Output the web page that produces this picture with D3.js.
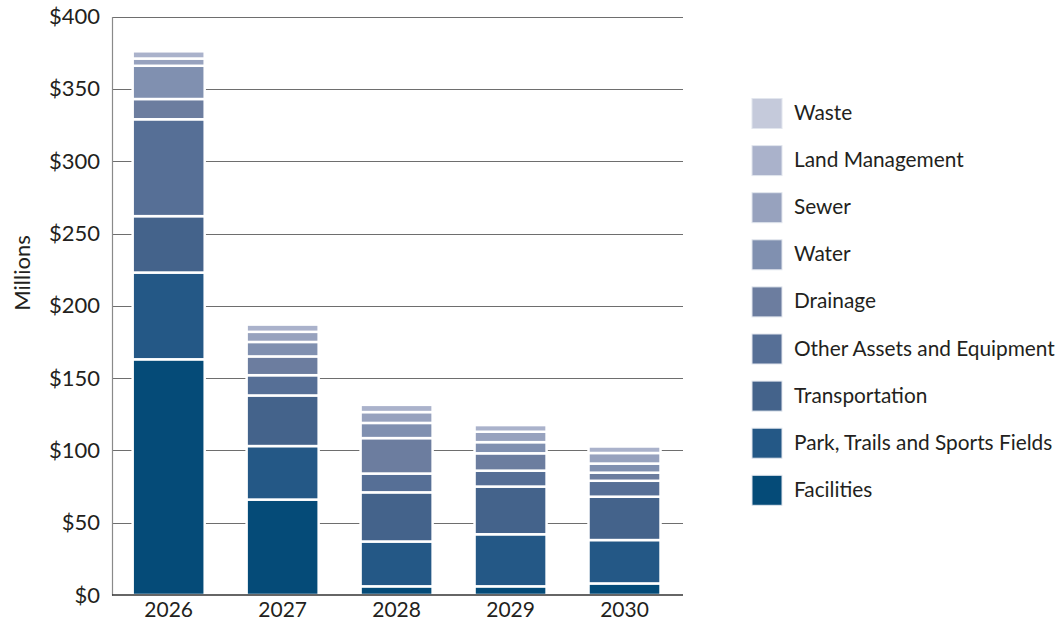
<!DOCTYPE html>
<html>
<head>
<meta charset="utf-8">
<script src="https://cdn.jsdelivr.net/npm/d3@7"></script>
<style>
  html, body { margin: 0; padding: 0; background: #fff; }
  svg { display: block; }
  text { font-family: Lato, "Open Sans", sans-serif; fill: #231f20; }
</style>
</head>
<body>
<svg id="chart" width="1061" height="629"></svg>
<script>
// Capital plan by year, millions of dollars
const years = ["2026", "2027", "2028", "2029", "2030"];
const yTicks = [0, 50, 100, 150, 200, 250, 300, 350, 400];

// Series listed bottom of the stack first
const facilities     = [163, 66, 6, 6, 8];
const parks          = [60, 37, 31, 36, 30];
const transportation = [39, 35, 34, 33, 30];
const otherAssets    = [67, 14, 13, 11, 11];
const drainage       = [14, 13, 24.5, 12, 5.6];
const water          = [23, 10, 10.5, 7.7, 6.3];
const sewer          = [5, 7, 7.5, 7.2, 7.3];
const landManagement = [5, 5, 5, 4.6, 4.5];
const waste          = [0, 0, 0, 0, 0];

const seriesNames = ["Facilities", "Park, Trails and Sports Fields", "Transportation",
  "Other Assets and Equipment", "Drainage", "Water", "Sewer", "Land Management", "Waste"];
const seriesValues = [facilities, parks, transportation, otherAssets, drainage,
  water, sewer, landManagement, waste];
const seriesColors = ["#054b78", "#245886", "#44638b", "#566f96", "#6c7d9f",
  "#8090b0", "#97a2be", "#aab2cb", "#c5cadb"];

const rows = years.map((yr, i) => {
  const r = { year: yr };
  seriesNames.forEach((n, k) => { r[n] = seriesValues[k][i]; });
  return r;
});

const svg = d3.select("#chart");
const plotLeft = 112, plotRight = 683, plotTop = 16.6, plotBottom = 595;

const x = d3.scaleBand().domain(years).range([111.7, 681.5])
  .paddingInner(0.368).paddingOuter(0.184);
const y = d3.scaleLinear().domain([0, 400]).range([plotBottom, plotTop]);
const color = d3.scaleOrdinal().domain(seriesNames).range(seriesColors);

// Gridlines
svg.append("g")
  .selectAll("line").data(yTicks.filter(d => d > 0)).join("line")
  .attr("x1", plotLeft).attr("x2", plotRight)
  .attr("y1", d => Math.round(y(d)) + 0.5).attr("y2", d => Math.round(y(d)) + 0.5)
  .attr("stroke", "#6e6e6e").attr("stroke-width", 1);

// Left axis with dollar labels
const yAxis = svg.append("g")
  .attr("transform", `translate(${plotLeft},0)`)
  .call(d3.axisLeft(y).tickValues(yTicks).tickSize(0).tickPadding(12).tickFormat(d => "$" + d));
yAxis.select(".domain").attr("stroke", "#8a8a8a").attr("stroke-width", 1.2);
yAxis.selectAll("text").style("font-size", "22px").attr("fill", "#231f20")
  .style("font-family", "Lato, sans-serif");

// Stacked bars
const stack = d3.stack().keys(seriesNames)(rows);
svg.append("g")
  .selectAll("g").data(stack).join("g")
  .attr("fill", d => color(d.key))
  .selectAll("rect").data(d => d.filter(s => s[1] - s[0] > 0)).join("rect")
  .attr("x", d => x(d.data.year))
  .attr("width", x.bandwidth())
  .attr("y", d => y(d[1]))
  .attr("height", d => y(d[0]) - y(d[1]))
  .attr("stroke", "#ffffff").attr("stroke-width", 2.5);

// Baseline and year labels
const xAxis = svg.append("g")
  .attr("transform", `translate(0,${plotBottom})`)
  .call(d3.axisBottom(x).tickSize(0).tickPadding(7));
xAxis.select(".domain").attr("d", `M${plotLeft},0H${plotRight}`).attr("stroke", "#333").attr("stroke-width", 1.5);
xAxis.selectAll("text").style("font-size", "21px").attr("fill", "#231f20")
  .style("font-family", "Lato, sans-serif");

// Axis title
svg.append("text")
  .attr("transform", "translate(30,273) rotate(-90)")
  .attr("text-anchor", "middle")
  .style("font-size", "22px")
  .text("Millions");

// Legend, top entry is the top of the stack
const legendItems = seriesNames.slice().reverse();
const legend = svg.append("g").attr("transform", "translate(752,98.5)");
const item = legend.selectAll("g").data(legendItems).join("g")
  .attr("transform", (d, i) => `translate(0,${i * 47.1})`);
item.append("rect")
  .attr("width", 30).attr("height", 30)
  .attr("fill", d => color(d))
  .attr("stroke", "#e2e6ee").attr("stroke-width", 1);
const labels = item.append("text")
  .attr("y", 15).attr("dy", "0.3em")
  .style("font-size", "22px")
  .text(d => d);

// Condense legend labels so the longest one fits the space right of the swatches
const legendTextWidth = 261;
let widest = 0;
labels.each(function () { widest = Math.max(widest, this.getComputedTextLength()); });
const squeeze = Math.min(1, legendTextWidth / widest);
labels.attr("transform", `translate(42,0) scale(${squeeze},1)`);
</script>
</body>
</html>
